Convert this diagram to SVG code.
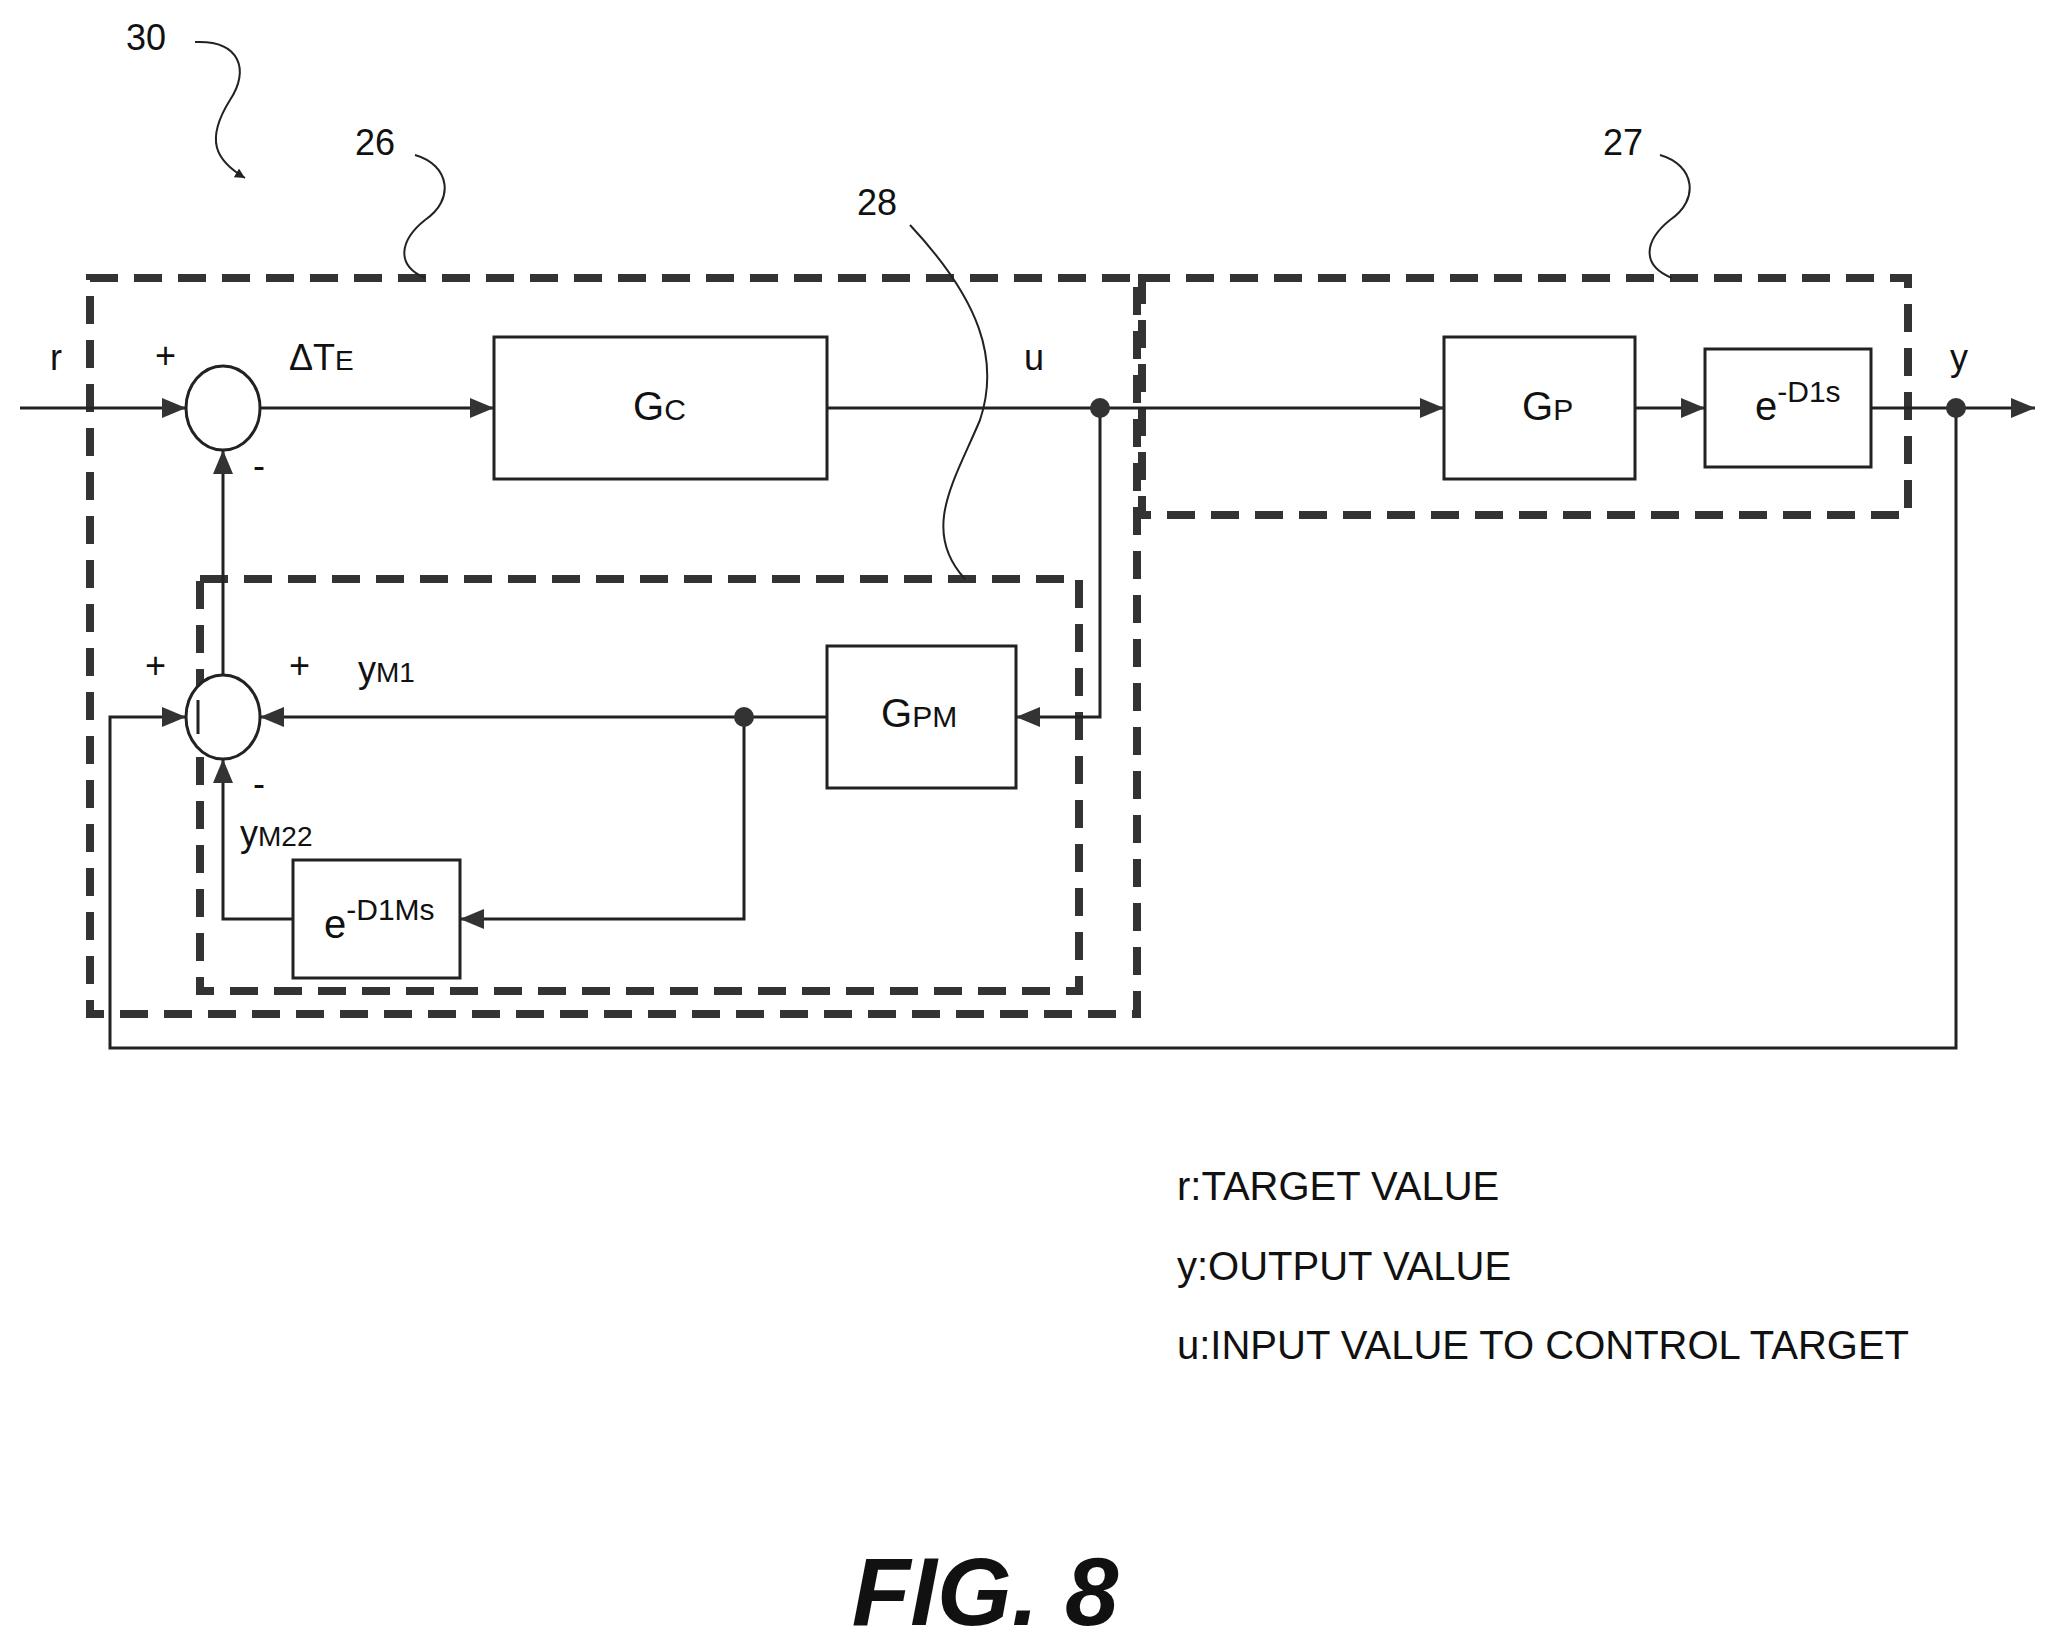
<svg xmlns="http://www.w3.org/2000/svg" width="2048" height="1644" viewBox="0 0 2048 1644">
<style>
.t{font-family:"Liberation Sans",Arial,sans-serif;fill:#111}
.l{stroke:#222;stroke-width:3;fill:none}
.b{stroke:#222;stroke-width:3;fill:#fff}
.d{stroke:#333;stroke-width:8;fill:none;stroke-dasharray:28 16}
.ld{stroke:#222;stroke-width:2;fill:none}
</style>
<defs>
<marker id="a" markerWidth="10" markerHeight="10" refX="10" refY="5" orient="auto" markerUnits="userSpaceOnUse" viewBox="0 0 10 10"><path d="M0,0 L10,5 L0,10 z" fill="#222"/></marker>
<marker id="ar" markerWidth="24" markerHeight="20" refX="24" refY="10" orient="auto" markerUnits="userSpaceOnUse"><path d="M0,0 L24,10 L0,20 z" fill="#333"/></marker>
</defs>
<rect width="2048" height="1644" fill="#fff"/>
<g id="box26"><rect class="d" x="90" y="278" width="1047" height="736"/></g>
<g id="box27"><rect class="d" x="1142" y="278" width="766" height="237"/></g>
<g id="box28"><rect class="d" x="200" y="579" width="879" height="412"/></g>
<g id="connectors">
<path class="l" d="M20,408 H186" marker-end="url(#ar)"/>
<path class="l" d="M260,408 H494" marker-end="url(#ar)"/>
<path class="l" d="M827,408 H1444" marker-end="url(#ar)"/>
<path class="l" d="M1635,408 H1705" marker-end="url(#ar)"/>
<path class="l" d="M1871,408 H2035" marker-end="url(#ar)"/>
<path class="l" d="M1956,408 V1048 H110 V717 H186" marker-end="url(#ar)"/>
<path class="l" d="M223,675 V450" marker-end="url(#ar)"/>
<path class="l" d="M1100,408 V717 H1016" marker-end="url(#ar)"/>
<path class="l" d="M827,717 H260" marker-end="url(#ar)"/>
<path class="l" d="M744,717 V919 H460" marker-end="url(#ar)"/>
<path class="l" d="M293,919 H223 V759" marker-end="url(#ar)"/>
<circle cx="1100" cy="408" r="10" fill="#333"/>
<circle cx="1956" cy="408" r="10" fill="#333"/>
<circle cx="744" cy="717" r="10" fill="#333"/>
</g>
<g id="sum1"><ellipse class="b" cx="223" cy="408" rx="37" ry="42"/></g>
<g id="sum2"><ellipse class="b" cx="223" cy="717" rx="37" ry="42"/><line class="l" x1="198" y1="700" x2="198" y2="734"/></g>
<g id="Gc"><rect class="b" x="494" y="337" width="333" height="142"/><text class="t" x="633" y="420" font-size="40">G<tspan font-size="30">C</tspan></text></g>
<g id="Gp"><rect class="b" x="1444" y="337" width="191" height="142"/><text class="t" x="1522" y="420" font-size="40">G<tspan font-size="30">P</tspan></text></g>
<g id="delay1"><rect class="b" x="1705" y="349" width="166" height="118"/><text class="t" x="1755" y="420" font-size="40">e<tspan font-size="30" dy="-18">-D1s</tspan></text></g>
<g id="Gpm"><rect class="b" x="827" y="646" width="189" height="142"/><text class="t" x="881" y="727" font-size="40">G<tspan font-size="30">PM</tspan></text></g>
<g id="delay2"><rect class="b" x="293" y="860" width="167" height="118"/><text class="t" x="324" y="938" font-size="40">e<tspan font-size="30" dy="-18">-D1Ms</tspan></text></g>
<g id="labels" class="t" font-size="36">
<text x="50" y="370">r</text>
<text x="155" y="368">+</text>
<text x="289" y="370">ΔT<tspan font-size="28">E</tspan></text>
<text x="253" y="478">-</text>
<text x="1024" y="370">u</text>
<text x="1950" y="370">y</text>
<text x="145" y="678">+</text>
<text x="289" y="678">+</text>
<text x="358" y="682">y<tspan font-size="28">M1</tspan></text>
<text x="253" y="796">-</text>
<text x="240" y="846">y<tspan font-size="28">M22</tspan></text>
<text x="126" y="50">30</text>
<text x="355" y="155">26</text>
<text x="1603" y="155">27</text>
<text x="857" y="215">28</text>
</g>
<g id="leaders">
<path class="ld" d="M195,42 C240,40 250,70 230,100 C205,140 215,160 245,178" marker-end="url(#a)"/>
<path class="ld" d="M415,155 C450,165 455,200 425,220 C400,240 395,265 425,278"/>
<path class="ld" d="M1660,155 C1695,165 1700,200 1670,220 C1645,240 1640,265 1672,278"/>
<path class="ld" d="M910,225 C980,300 1000,360 980,420 C955,480 920,530 965,579"/>
</g>
<g id="legend" class="t" font-size="40">
<text x="1177" y="1200">r:TARGET VALUE</text>
<text x="1177" y="1280">y:OUTPUT VALUE</text>
<text x="1177" y="1359">u:INPUT VALUE TO CONTROL TARGET</text>
</g>
<text class="t" x="985" y="1625" font-size="96" font-weight="bold" font-style="italic" text-anchor="middle">FIG. 8</text>
</svg>
